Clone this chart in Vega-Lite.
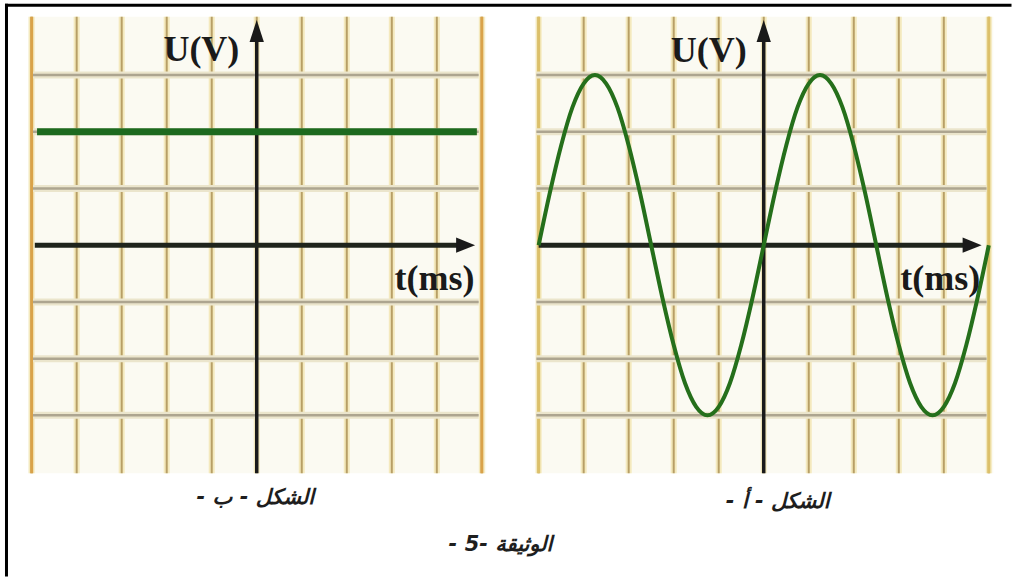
{
"$schema": "https://vega.github.io/schema/vega-lite/v6.json",
"width": 1013, "height": 578, "padding": 0,
"autosize": {"type": "fit", "contains": "padding"},
"background": "white",
"config": {"view": {"stroke": null}, "axis": {"disable": true}},
"datasets": {
 "gridT": [{"t":-5},{"t":-4},{"t":-3},{"t":-2},{"t":-1},{"t":0},{"t":1},{"t":2},{"t":3},{"t":4},{"t":5}],
 "edges": [{"t":-5},{"t":5}],
 "gridU": [{"U":-3},{"U":-2},{"U":-1},{"U":1},{"U":2},{"U":3}],
 "dc": [{"t":-4.88,"U":2},{"t":4.89,"U":2}],
 "sine": [{"t":-5,"U":0},{"t":-4.75,"U":0.93},{"t":-4.5,"U":1.76},{"t":-4.25,"U":2.43},{"t":-4,"U":2.85},{"t":-3.75,"U":3},{"t":-3.5,"U":2.85},{"t":-3.25,"U":2.43},{"t":-3,"U":1.76},{"t":-2.75,"U":0.93},{"t":-2.5,"U":0},{"t":-2.25,"U":-0.93},{"t":-2,"U":-1.76},{"t":-1.75,"U":-2.43},{"t":-1.5,"U":-2.85},{"t":-1.25,"U":-3},{"t":-1,"U":-2.85},{"t":-0.75,"U":-2.43},{"t":-0.5,"U":-1.76},{"t":-0.25,"U":-0.93},{"t":0,"U":0},{"t":0.25,"U":0.93},{"t":0.5,"U":1.76},{"t":0.75,"U":2.43},{"t":1,"U":2.85},{"t":1.25,"U":3},{"t":1.5,"U":2.85},{"t":1.75,"U":2.43},{"t":2,"U":1.76},{"t":2.25,"U":0.93},{"t":2.5,"U":0},{"t":2.75,"U":-0.93},{"t":3,"U":-1.76},{"t":3.25,"U":-2.43},{"t":3.5,"U":-2.85},{"t":3.75,"U":-3},{"t":4,"U":-2.85},{"t":4.25,"U":-2.43},{"t":4.5,"U":-1.76},{"t":4.75,"U":-0.93},{"t":5,"U":0}]
},
"data": {"values": [{"row": 1}]},
"resolve": {"scale": {"x": "independent", "y": "independent"}},
"layer": [
 {"mark": {"type": "rect", "fill": "#fbfaf2"},
  "encoding": {"x": {"datum": -5.08, "type": "quantitative", "scale": {"domain": [-5.7032, 16.7331], "nice": false, "zero": false}}, "x2": {"datum": 5.1},
   "y": {"datum": -4.02, "type": "quantitative", "scale": {"domain": [-5.8158, 4.3246], "nice": false, "zero": false}}, "y2": {"datum": 4.03}}},
 {"data": {"name": "gridT"}, "mark": {"type": "rule", "stroke": "#f4e9bd", "strokeWidth": 6},
  "encoding": {"x": {"field": "t", "type": "quantitative", "scale": {"domain": [-5.7032, 16.7331], "nice": false, "zero": false}},
   "y": {"datum": -4.02, "type": "quantitative", "scale": {"domain": [-5.8158, 4.3246], "nice": false, "zero": false}}, "y2": {"datum": 4.03}}},
 {"data": {"name": "gridT"}, "mark": {"type": "rule", "stroke": "#b79f66", "strokeWidth": 2},
  "encoding": {"x": {"field": "t", "type": "quantitative", "scale": {"domain": [-5.7032, 16.7331], "nice": false, "zero": false}},
   "y": {"datum": -4.02, "type": "quantitative", "scale": {"domain": [-5.8158, 4.3246], "nice": false, "zero": false}}, "y2": {"datum": 4.03}}},
 {"data": {"name": "edges"}, "mark": {"type": "rule", "stroke": "#d9a24a", "strokeWidth": 3},
  "encoding": {"x": {"field": "t", "type": "quantitative", "scale": {"domain": [-5.7032, 16.7331], "nice": false, "zero": false}},
   "y": {"datum": -4.02, "type": "quantitative", "scale": {"domain": [-5.8158, 4.3246], "nice": false, "zero": false}}, "y2": {"datum": 4.03}}},
 {"data": {"name": "gridU"}, "mark": {"type": "rule", "stroke": "#ebe5cc", "strokeWidth": 7},
  "encoding": {"y": {"field": "U", "type": "quantitative", "scale": {"domain": [-5.8158, 4.3246], "nice": false, "zero": false}},
   "x": {"datum": -4.97, "type": "quantitative", "scale": {"domain": [-5.7032, 16.7331], "nice": false, "zero": false}}, "x2": {"datum": 4.93}}},
 {"data": {"name": "gridU"}, "mark": {"type": "rule", "stroke": "#ada590", "strokeWidth": 2.5},
  "encoding": {"y": {"field": "U", "type": "quantitative", "scale": {"domain": [-5.8158, 4.3246], "nice": false, "zero": false}},
   "x": {"datum": -4.97, "type": "quantitative", "scale": {"domain": [-5.7032, 16.7331], "nice": false, "zero": false}}, "x2": {"datum": 4.93}}},
 {"mark": {"type": "rule", "stroke": "#1a1a1a", "strokeWidth": 3.5},
  "encoding": {"x": {"datum": 0, "type": "quantitative", "scale": {"domain": [-5.7032, 16.7331], "nice": false, "zero": false}},
   "y": {"datum": -4.02, "type": "quantitative", "scale": {"domain": [-5.8158, 4.3246], "nice": false, "zero": false}}, "y2": {"datum": 3.65}}},
 {"mark": {"type": "rule", "stroke": "#1f241c", "strokeWidth": 5},
  "encoding": {"y": {"datum": 0, "type": "quantitative", "scale": {"domain": [-5.8158, 4.3246], "nice": false, "zero": false}},
   "x": {"datum": -4.93, "type": "quantitative", "scale": {"domain": [-5.7032, 16.7331], "nice": false, "zero": false}}, "x2": {"datum": 4.5}}},
 {"mark": {"type": "point", "shape": "M-0.65,1L0,-1L0.65,1Z", "size": 484, "filled": true, "color": "#1a1a1a", "opacity": 1},
  "encoding": {"x": {"datum": 0, "type": "quantitative", "scale": {"domain": [-5.7032, 16.7331], "nice": false, "zero": false}},
   "y": {"datum": 3.78, "type": "quantitative", "scale": {"domain": [-5.8158, 4.3246], "nice": false, "zero": false}}}},
 {"mark": {"type": "point", "shape": "M-1,-0.8L1,0L-1,0.8Z", "size": 361, "filled": true, "color": "#1a1a1a", "opacity": 1},
  "encoding": {"x": {"datum": 4.64, "type": "quantitative", "scale": {"domain": [-5.7032, 16.7331], "nice": false, "zero": false}},
   "y": {"datum": 0, "type": "quantitative", "scale": {"domain": [-5.8158, 4.3246], "nice": false, "zero": false}}}},
 {"data": {"name": "dc"}, "mark": {"type": "line", "stroke": "#1d6a1f", "strokeWidth": 7},
  "encoding": {"x": {"field": "t", "type": "quantitative", "scale": {"domain": [-5.7032, 16.7331], "nice": false, "zero": false}},
   "y": {"field": "U", "type": "quantitative", "scale": {"domain": [-5.8158, 4.3246], "nice": false, "zero": false}}}},
 {"mark": {"type": "text", "text": "U(V)", "font": "Liberation Serif", "fontSize": 36, "fontWeight": "bold", "color": "#1a1a1a", "baseline": "middle", "align": "center"},
  "encoding": {"x": {"datum": -1.23, "type": "quantitative", "scale": {"domain": [-5.7032, 16.7331], "nice": false, "zero": false}},
   "y": {"datum": 3.45, "type": "quantitative", "scale": {"domain": [-5.8158, 4.3246], "nice": false, "zero": false}}}},
 {"mark": {"type": "text", "text": "t(ms)", "font": "Liberation Serif", "fontSize": 36, "fontWeight": "bold", "color": "#1a1a1a", "baseline": "middle", "align": "center"},
  "encoding": {"x": {"datum": 3.95, "type": "quantitative", "scale": {"domain": [-5.7032, 16.7331], "nice": false, "zero": false}},
   "y": {"datum": -0.59, "type": "quantitative", "scale": {"domain": [-5.8158, 4.3246], "nice": false, "zero": false}}}},

 {"mark": {"type": "rect", "fill": "#fbfaf2"},
  "encoding": {"x": {"datum": -5.07, "type": "quantitative", "scale": {"domain": [-16.9657, 5.4707], "nice": false, "zero": false}}, "x2": {"datum": 5.1},
   "y": {"datum": -4.02, "type": "quantitative", "scale": {"domain": [-5.8158, 4.3246], "nice": false, "zero": false}}, "y2": {"datum": 4.03}}},
 {"data": {"name": "gridT"}, "mark": {"type": "rule", "stroke": "#f4e9bd", "strokeWidth": 6},
  "encoding": {"x": {"field": "t", "type": "quantitative", "scale": {"domain": [-16.9657, 5.4707], "nice": false, "zero": false}},
   "y": {"datum": -4.02, "type": "quantitative", "scale": {"domain": [-5.8158, 4.3246], "nice": false, "zero": false}}, "y2": {"datum": 4.03}}},
 {"data": {"name": "gridT"}, "mark": {"type": "rule", "stroke": "#b79f66", "strokeWidth": 2},
  "encoding": {"x": {"field": "t", "type": "quantitative", "scale": {"domain": [-16.9657, 5.4707], "nice": false, "zero": false}},
   "y": {"datum": -4.02, "type": "quantitative", "scale": {"domain": [-5.8158, 4.3246], "nice": false, "zero": false}}, "y2": {"datum": 4.03}}},
 {"data": {"name": "edges"}, "mark": {"type": "rule", "stroke": "#dcc06a", "strokeWidth": 3},
  "encoding": {"x": {"field": "t", "type": "quantitative", "scale": {"domain": [-16.9657, 5.4707], "nice": false, "zero": false}},
   "y": {"datum": -4.02, "type": "quantitative", "scale": {"domain": [-5.8158, 4.3246], "nice": false, "zero": false}}, "y2": {"datum": 4.03}}},
 {"data": {"name": "gridU"}, "mark": {"type": "rule", "stroke": "#ebe5cc", "strokeWidth": 7},
  "encoding": {"y": {"field": "U", "type": "quantitative", "scale": {"domain": [-5.8158, 4.3246], "nice": false, "zero": false}},
   "x": {"datum": -5.05, "type": "quantitative", "scale": {"domain": [-16.9657, 5.4707], "nice": false, "zero": false}}, "x2": {"datum": 4.95}}},
 {"data": {"name": "gridU"}, "mark": {"type": "rule", "stroke": "#ada590", "strokeWidth": 2.5},
  "encoding": {"y": {"field": "U", "type": "quantitative", "scale": {"domain": [-5.8158, 4.3246], "nice": false, "zero": false}},
   "x": {"datum": -5.05, "type": "quantitative", "scale": {"domain": [-16.9657, 5.4707], "nice": false, "zero": false}}, "x2": {"datum": 4.95}}},
 {"mark": {"type": "rule", "stroke": "#1a1a1a", "strokeWidth": 3.5},
  "encoding": {"x": {"datum": 0, "type": "quantitative", "scale": {"domain": [-16.9657, 5.4707], "nice": false, "zero": false}},
   "y": {"datum": -4.02, "type": "quantitative", "scale": {"domain": [-5.8158, 4.3246], "nice": false, "zero": false}}, "y2": {"datum": 3.65}}},
 {"mark": {"type": "rule", "stroke": "#1f241c", "strokeWidth": 5},
  "encoding": {"y": {"datum": 0, "type": "quantitative", "scale": {"domain": [-5.8158, 4.3246], "nice": false, "zero": false}},
   "x": {"datum": -5.0, "type": "quantitative", "scale": {"domain": [-16.9657, 5.4707], "nice": false, "zero": false}}, "x2": {"datum": 4.5}}},
 {"mark": {"type": "point", "shape": "M-0.65,1L0,-1L0.65,1Z", "size": 484, "filled": true, "color": "#1a1a1a", "opacity": 1},
  "encoding": {"x": {"datum": 0, "type": "quantitative", "scale": {"domain": [-16.9657, 5.4707], "nice": false, "zero": false}},
   "y": {"datum": 3.78, "type": "quantitative", "scale": {"domain": [-5.8158, 4.3246], "nice": false, "zero": false}}}},
 {"mark": {"type": "point", "shape": "M-1,-0.8L1,0L-1,0.8Z", "size": 361, "filled": true, "color": "#1a1a1a", "opacity": 1},
  "encoding": {"x": {"datum": 4.63, "type": "quantitative", "scale": {"domain": [-16.9657, 5.4707], "nice": false, "zero": false}},
   "y": {"datum": 0, "type": "quantitative", "scale": {"domain": [-5.8158, 4.3246], "nice": false, "zero": false}}}},
 {"data": {"name": "sine"}, "mark": {"type": "line", "stroke": "#256f1b", "strokeWidth": 4, "interpolate": "monotone"},
  "encoding": {"x": {"field": "t", "type": "quantitative", "scale": {"domain": [-16.9657, 5.4707], "nice": false, "zero": false}},
   "y": {"field": "U", "type": "quantitative", "scale": {"domain": [-5.8158, 4.3246], "nice": false, "zero": false}}}},
 {"mark": {"type": "text", "text": "U(V)", "font": "Liberation Serif", "fontSize": 36, "fontWeight": "bold", "color": "#1a1a1a", "baseline": "middle", "align": "center"},
  "encoding": {"x": {"datum": -1.22, "type": "quantitative", "scale": {"domain": [-16.9657, 5.4707], "nice": false, "zero": false}},
   "y": {"datum": 3.43, "type": "quantitative", "scale": {"domain": [-5.8158, 4.3246], "nice": false, "zero": false}}}},
 {"mark": {"type": "text", "text": "t(ms)", "font": "Liberation Serif", "fontSize": 36, "fontWeight": "bold", "color": "#1a1a1a", "baseline": "middle", "align": "center"},
  "encoding": {"x": {"datum": 3.92, "type": "quantitative", "scale": {"domain": [-16.9657, 5.4707], "nice": false, "zero": false}},
   "y": {"datum": -0.59, "type": "quantitative", "scale": {"domain": [-5.8158, 4.3246], "nice": false, "zero": false}}}},

 {"mark": {"type": "text", "text": "الشكل - ب -‏", "font": "DejaVu Sans", "fontSize": 21, "fontWeight": "bold", "fontStyle": "italic", "color": "#1e1e1e", "baseline": "middle", "align": "center"},
  "encoding": {"x": {"datum": -0.03, "type": "quantitative", "scale": {"domain": [-5.7032, 16.7331], "nice": false, "zero": false}},
   "y": {"datum": -4.45, "type": "quantitative", "scale": {"domain": [-5.8158, 4.3246], "nice": false, "zero": false}}}},
 {"mark": {"type": "text", "text": "الشكل - أ -‏", "font": "DejaVu Sans", "fontSize": 21, "fontWeight": "bold", "fontStyle": "italic", "color": "#1e1e1e", "baseline": "middle", "align": "center"},
  "encoding": {"x": {"datum": 0.31, "type": "quantitative", "scale": {"domain": [-16.9657, 5.4707], "nice": false, "zero": false}},
   "y": {"datum": -4.53, "type": "quantitative", "scale": {"domain": [-5.8158, 4.3246], "nice": false, "zero": false}}}},
 {"mark": {"type": "text", "text": "الوثيقة -5 -‏", "font": "DejaVu Sans", "fontSize": 21, "fontWeight": "bold", "fontStyle": "italic", "color": "#1e1e1e", "baseline": "middle", "align": "center"},
  "encoding": {"x": {"datum": 5.415, "type": "quantitative", "scale": {"domain": [-5.7032, 16.7331], "nice": false, "zero": false}},
   "y": {"datum": -5.29, "type": "quantitative", "scale": {"domain": [-5.8158, 4.3246], "nice": false, "zero": false}}}},

 {"mark": {"type": "rule", "stroke": "#000000", "strokeWidth": 3, "strokeCap": "square"},
  "encoding": {"x": {"datum": -5.559, "type": "quantitative", "scale": {"domain": [-5.7032, 16.7331], "nice": false, "zero": false}},
   "y": {"datum": -5.8158, "type": "quantitative", "scale": {"domain": [-5.8158, 4.3246], "nice": false, "zero": false}}, "y2": {"datum": 4.232}}},
 {"mark": {"type": "rule", "stroke": "#000000", "strokeWidth": 3, "strokeCap": "square"},
  "encoding": {"y": {"datum": 4.232, "type": "quantitative", "scale": {"domain": [-5.8158, 4.3246], "nice": false, "zero": false}},
   "x": {"datum": -5.559, "type": "quantitative", "scale": {"domain": [-5.7032, 16.7331], "nice": false, "zero": false}}, "x2": {"datum": 16.7331}}}
]
}
